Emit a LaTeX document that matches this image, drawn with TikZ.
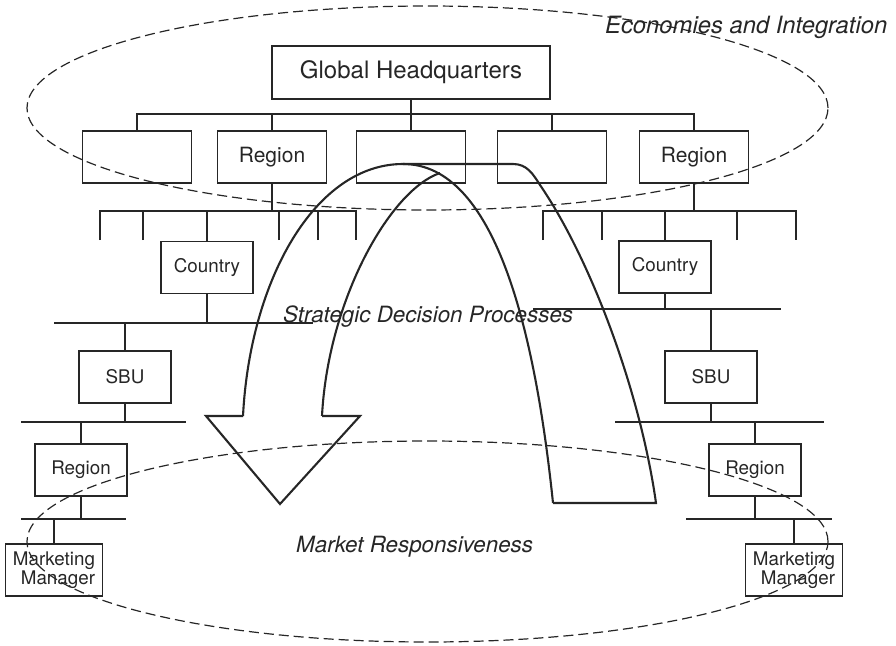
\documentclass[tikz,border=0pt]{standalone}
\usepackage{fontspec}
\setmainfont{TeX Gyre Heros}
\definecolor{ink}{HTML}{262626}

\begin{document}
\begin{tikzpicture}[x=1pt, y=-1pt,
    box/.style={draw=ink, line width=1.4pt, text=ink, inner sep=0pt, minimum width=92pt, minimum height=52pt, font=\fontsize{18.8}{19.5}\selectfont},
    rbox/.style={box, minimum width=109pt, font=\fontsize{21}{24}\selectfont},
    link/.style={draw=ink, line width=1.4pt},
    zone/.style={draw=ink, line width=1.2pt, dash pattern=on 10pt off 5pt},
    flow/.style={draw=ink, line width=2.1pt, line join=miter},
    lbl/.style={text=ink, inner sep=0pt, anchor=base west, font=\itshape\fontsize{22.4}{26}\selectfont}]
    \useasboundingbox (0,0) rectangle (896,645);

    % ノードの定義
    \node[box, minimum width=278pt, minimum height=53pt, font=\fontsize{24}{28}\selectfont] (ghq) at (411,72.5) {Global Headquarters};
    \node[rbox] (r1) at (137,157) {};
    \node[rbox] (r2) at (272,157) {Region};
    \node[rbox] (r3) at (411,157) {};
    \node[rbox] (r4) at (552,157) {};
    \node[rbox] (r5) at (694,157) {Region};

    \node[box] (lc) at (207,267.5) {Country};
    \node[box] (ls) at (125,377) {SBU};
    \node[box] (lr) at (81,470) {Region};
    \node[box, minimum width=97pt, align=right] (lm) at (54,570) {Marketing\\Manager};

    \node[box] (rc) at (665,267) {Country};
    \node[box] (rs) at (711,377) {SBU};
    \node[box] (rr) at (755,470) {Region};
    \node[box, minimum width=97pt, align=right] (rm) at (794,570) {Marketing\\Manager};

    % 線の端点
    \coordinate (busA) at (0,114);
    \coordinate (busB) at (0,211);
    \coordinate (lt1) at (100,240);
    \coordinate (lt2) at (143,240);
    \coordinate (lt3) at (279,240);
    \coordinate (lt4) at (318,240);
    \coordinate (lt5) at (356,240);
    \coordinate (rt1) at (543,240);
    \coordinate (rt2) at (602,240);
    \coordinate (rt3) at (737,240);
    \coordinate (rt4) at (796,240);
    \coordinate (lb1) at (54,323);
    \coordinate (lb2) at (313,323);
    \coordinate (lb3) at (21,422);
    \coordinate (lb4) at (186,422);
    \coordinate (lb5) at (21,519);
    \coordinate (lb6) at (126,519);
    \coordinate (rb1) at (533,309);
    \coordinate (rb2) at (781,309);
    \coordinate (rb3) at (615,422);
    \coordinate (rb4) at (824,422);
    \coordinate (rb5) at (686,519);
    \coordinate (rb6) at (832,519);

    % 本社から地域へ
    \draw[link] (r1.north) |- (busA -| r5.north) -- (r5.north);
    \draw[link] (ghq.south) -- (r3.north);
    \draw[link] (r2.north) -- (r2.north |- busA);
    \draw[link] (r4.north) -- (r4.north |- busA);

    % 左側の系列
    \draw[link] (lt1) |- (busB -| lt5) -- (lt5);
    \draw[link] (r2.south) -- (r2.south |- busB);
    \draw[link] (lt2) -- (lt2 |- busB);
    \draw[link] (lt3) -- (lt3 |- busB);
    \draw[link] (lt4) -- (lt4 |- busB);
    \draw[link] (lc.north) -- (lc.north |- busB);
    \draw[link] (lb1) -- (lb2);
    \draw[link] (lc.south) -- (lc.south |- lb1);
    \draw[link] (ls.north) -- (ls.north |- lb1);
    \draw[link] (lb3) -- (lb4);
    \draw[link] (ls.south) -- (ls.south |- lb3);
    \draw[link] (lr.north) -- (lr.north |- lb3);
    \draw[link] (lb5) -- (lb6);
    \draw[link] (lr.south) -- (lr.south |- lb5);
    \draw[link] (lm.north) -- (lm.north |- lb5);

    % 右側の系列
    \draw[link] (rt1) |- (busB -| rt4) -- (rt4);
    \draw[link] (r5.south) -- (r5.south |- busB);
    \draw[link] (rt2) -- (rt2 |- busB);
    \draw[link] (rt3) -- (rt3 |- busB);
    \draw[link] (rc.north) -- (rc.north |- busB);
    \draw[link] (rb1) -- (rb2);
    \draw[link] (rc.south) -- (rc.south |- rb1);
    \draw[link] (rs.north) -- (rs.north |- rb1);
    \draw[link] (rb3) -- (rb4);
    \draw[link] (rs.south) -- (rs.south |- rb3);
    \draw[link] (rr.north) -- (rr.north |- rb3);
    \draw[link] (rb5) -- (rb6);
    \draw[link] (rr.south) -- (rr.south |- rb5);
    \draw[link] (rm.north) -- (rm.north |- rb5);

    % 破線の楕円
    \coordinate (topc) at (427.5,108);
    \coordinate (botc) at (427.5,541.5);
    \draw[zone] (topc) ellipse [x radius=400.5pt, y radius=102pt];
    \draw[zone] (botc) ellipse [x radius=400.5pt, y radius=100.5pt];

    % 大きな矢印
    \draw[flow] (243,416) .. controls (250,280) and (315,164) .. (403,164)
        .. controls (495,164) and (535,330) .. (553,503);
    \draw[flow] (403,164) -- (513,164) .. controls (527,164) and (533,174) .. (540,185)
        .. controls (590,258) and (640,390) .. (656,503) -- (553,503);
    \draw[flow] (322,416) .. controls (328,300) and (390,190) .. (440,173);
    \draw[flow] (322,416) -- (360,416) -- (280,504) -- (206,416) -- (243,416);

    % ラベル
    \node[lbl, font=\itshape\fontsize{23.8}{27}\selectfont] (econ) at (605,33) {Economies and Integration};
    \node[lbl] (strat) at (283,322) {Strategic Decision Processes};
    \node[lbl] (market) at (296,552) {Market Responsiveness};

  \end{tikzpicture}
\end{document}
